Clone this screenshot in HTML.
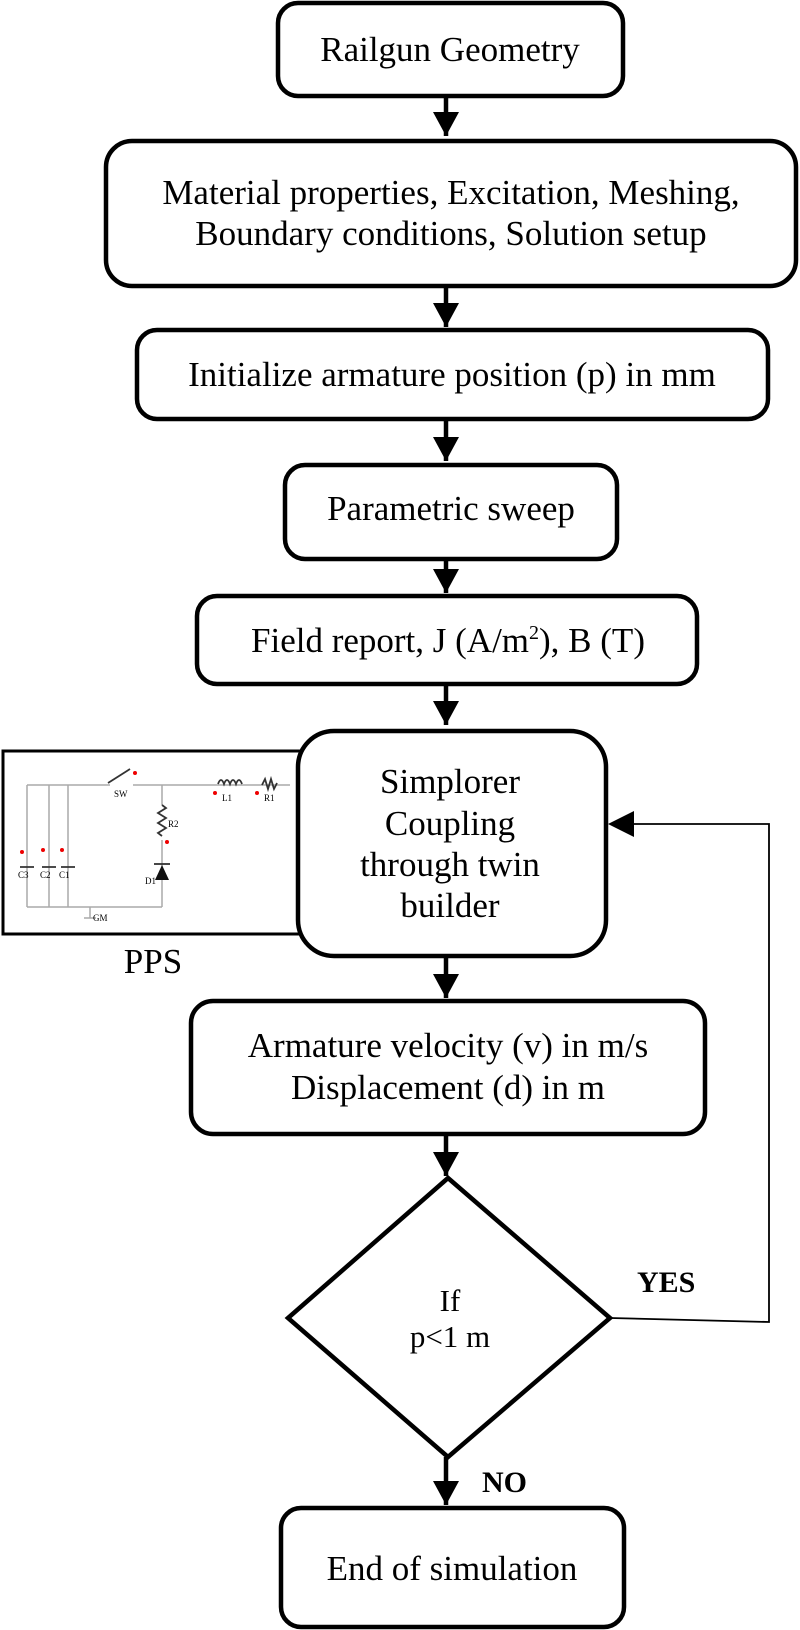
<!DOCTYPE html>
<html><head><meta charset="utf-8"><style>
html,body{margin:0;padding:0;background:#fff;}
svg{display:block;}
text{font-family:"Liberation Serif",serif;fill:#000;}
</style></head><body>
<svg width="800" height="1630" viewBox="0 0 800 1630" xmlns="http://www.w3.org/2000/svg">
<defs>
<marker id="ah" markerWidth="26" markerHeight="24" refX="13" refY="24" orient="0" markerUnits="userSpaceOnUse">
<path d="M0,0 L26,0 L13,24 Z" fill="#000"/></marker>
</defs>
<g fill="#fff" stroke="#000" stroke-width="4.5">
<rect x="278" y="3" width="345" height="93" rx="20"/>
<rect x="106" y="141" width="690" height="145" rx="26"/>
<rect x="137" y="330" width="631" height="89" rx="20"/>
<rect x="285" y="465" width="332" height="94" rx="20"/>
<rect x="197" y="596" width="500" height="88" rx="20"/>
</g>
<!-- PPS box -->
<rect x="3" y="751" width="300" height="183" fill="#fff" stroke="#000" stroke-width="3"/>
<g stroke="#aaa" stroke-width="1.5" fill="none">
<path d="M27,785 H110 M133,785 H290"/>
<path d="M27,785 V907 M49,785 V907 M68,785 V907 M27,907 H162"/>
<path d="M162,785 V805 M162,840 V907"/>
<path d="M90,907 V918 M84,918 H96"/>
</g>
<g stroke="#333" stroke-width="1.8" fill="none">
<path d="M108,783 L130,769"/>
<path d="M162,805 l4,3 l-8,5 l8,5 l-8,5 l8,5 l-8,5 l4,3"/>
<path d="M218,784 q3,-8 6,0 q3,-8 6,0 q3,-8 6,0 q3,-8 6,0"/>
<path d="M262,785 l3,-6 l3,10 l3,-10 l3,10 l3,-6"/>
<path d="M20,867 H34 M42,867 H56 M61,867 H75"/>
<path d="M154,864 H170"/>
</g>
<path d="M155,880 L169,880 L162,865 Z" fill="#111"/>
<g fill="#e00">
<circle cx="135" cy="773" r="2"/><circle cx="215" cy="793" r="2"/><circle cx="257" cy="793" r="2"/>
<circle cx="167" cy="842" r="2"/><circle cx="22" cy="852" r="2"/><circle cx="43" cy="850" r="2"/><circle cx="62" cy="850" r="2"/>
</g>
<g style="font-family:'Liberation Sans',sans-serif;font-size:9px;fill:#444">
<text x="114" y="797">SW</text><text x="222" y="801">L1</text><text x="264" y="801">R1</text>
<text x="168" y="827">R2</text><text x="18" y="878">C3</text><text x="40" y="878">C2</text><text x="59" y="878">C1</text>
<text x="145" y="884">D1</text><text x="93" y="921">GM</text>
</g>
<rect x="298" y="731" width="308" height="225" rx="36" fill="#fff" stroke="#000" stroke-width="4.5"/>
<rect x="191" y="1001" width="514" height="133" rx="22" fill="#fff" stroke="#000" stroke-width="4.5"/>
<path d="M448,1178 L610,1318 L448,1457 L288,1318 Z" fill="#fff" stroke="#000" stroke-width="4.5"/>
<rect x="281" y="1508" width="343" height="119" rx="20" fill="#fff" stroke="#000" stroke-width="4.5"/>
<!-- arrows -->
<g stroke="#000" stroke-width="4.5" marker-end="url(#ah)">
<line x1="446" y1="96" x2="446" y2="136"/>
<line x1="446" y1="286" x2="446" y2="327"/>
<line x1="446" y1="419" x2="446" y2="461"/>
<line x1="446" y1="559" x2="446" y2="593"/>
<line x1="446" y1="684" x2="446" y2="725"/>
<line x1="446" y1="956" x2="446" y2="998"/>
<line x1="446" y1="1134" x2="446" y2="1176"/>
<line x1="446" y1="1457" x2="446" y2="1505"/>
</g>
<path d="M610,1318 L769,1322 V824 H630" fill="none" stroke="#000" stroke-width="1.8"/>
<path d="M608,824 L634,811 L634,837 Z" fill="#000"/>
<!-- text -->
<g font-size="35" text-anchor="middle">
<text x="450" y="61">Railgun Geometry</text>
<text x="451" y="204">Material properties, Excitation, Meshing,</text>
<text x="451" y="245">Boundary conditions, Solution setup</text>
<text x="452" y="386">Initialize  armature position (p) in mm</text>
<text x="451" y="520">Parametric sweep</text>
<text x="448" y="652">Field  report, J (A/m<tspan font-size="20" dy="-13">2</tspan><tspan dy="13">), B (T)</tspan></text>
<text x="450" y="793">Simplorer</text>
<text x="450" y="835">Coupling</text>
<text x="450" y="876">through twin</text>
<text x="450" y="917">builder</text>
<text x="448" y="1057">Armature velocity (v) in m/s</text>
<text x="448" y="1099">Displacement (d) in m</text>
<text x="153" y="973">PPS</text>
<text x="452" y="1580">End of simulation</text>
</g>
<g font-size="31" text-anchor="middle">
<text x="450" y="1311">If</text>
<text x="450" y="1347">p&lt;1 m</text>
</g>
<g font-size="30" font-weight="bold">
<text x="637" y="1292">YES</text>
<text x="482" y="1492">NO</text>
</g>
</svg>
</body></html>
